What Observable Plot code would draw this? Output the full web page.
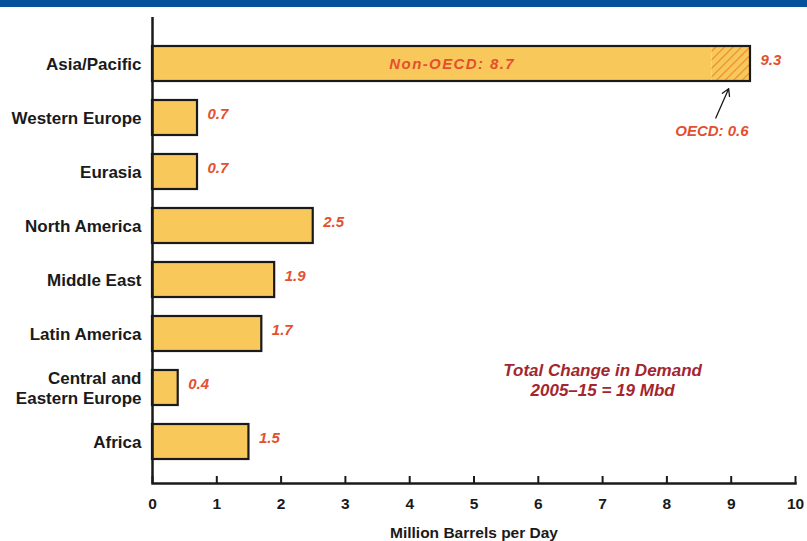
<!DOCTYPE html>
<html>
<head>
<meta charset="utf-8">
<script src="https://cdn.jsdelivr.net/npm/d3@7"></script>
<script src="https://cdn.jsdelivr.net/npm/@observablehq/plot@0.6"></script>
<style>
  body { margin: 0; background: #fff; font-family: "Liberation Sans", Arial, sans-serif; }
  #band { height: 7px; background: #07509a; }
  #chart svg { display: block; }
</style>
</head>
<body>
<div id="band"></div>
<div id="chart"></div>
<script>
// Regional change in oil demand, 2005–15 (million barrels per day)
const regions = ["Asia/Pacific", "Western Europe", "Eurasia", "North America",
  "Middle East", "Latin America", "Central and Eastern Europe", "Africa"];
const regionLabels = ["Asia/Pacific", "Western Europe", "Eurasia", "North America",
  "Middle East", "Latin America", "Central and\nEastern Europe", "Africa"];
const demandChange = [9.3, 0.7, 0.7, 2.5, 1.9, 1.7, 0.4, 1.5];
const asiaNonOECD = 8.7;
const asiaOECD = 0.6;
const xTicks = [0, 1, 2, 3, 4, 5, 6, 7, 8, 9, 10];
const axisTitle = "Million Barrels per Day";
const totalNote = "Total Change in Demand\n2005–15 = 19 Mbd";

const rows = regions.map((r, i) => ({region: r, label: regionLabels[i], value: demandChange[i]}));
const asia = rows[0];
const others = rows.slice(1);
const asiaParts = [
  {region: asia.region, x1: 0, x2: asiaNonOECD, part: "Non-OECD"},
  {region: asia.region, x1: asiaNonOECD, x2: asiaNonOECD + asiaOECD, part: "OECD"}
];

const W = 807, H = 534;
const marginTop = 10, marginBottom = 58, marginLeft = 152, marginRight = 12;
const frameH = H - marginTop - marginBottom;

const barFill = "#f9c85a";
const valueRed = "#e4502f";
const noteRed = "#a3262f";
const ink = "#1a1a1a";
const font = "Liberation Sans, Arial, sans-serif";

const svg = Plot.plot({
  width: W,
  height: H,
  marginTop, marginBottom, marginLeft, marginRight,
  style: {fontFamily: font, background: "#fff"},
  x: {domain: [0, 10]},
  y: {domain: regions, range: [28, 463], paddingInner: 0.35, paddingOuter: 0.175, axis: null},
  marks: [
    // bars
    Plot.barX(others, {y: "region", x: "value", fill: barFill, stroke: ink, strokeWidth: 2.2}),
    Plot.barX(asiaParts, {y: "region", x1: "x1", x2: "x2",
      fill: d => d.part === "OECD" ? "url(#oecd-hatch)" : barFill}),
    Plot.barX([asia], {y: "region", x: "value", fill: "none", stroke: ink, strokeWidth: 2.2}),

    // axes
    Plot.ruleX([0], {stroke: ink, strokeWidth: 2.5}),
    Plot.frame({anchor: "bottom", stroke: ink, strokeWidth: 2.5}),
    Plot.ruleX(xTicks, {insetTop: frameH - 7, stroke: ink, strokeWidth: 2}),
    Plot.axisX({ticks: xTicks, tickSize: 0, tickPadding: 14, fontSize: 15.5, fontWeight: "bold",
      fill: ink, label: null}),
    Plot.text([axisTitle], {x: 5, frameAnchor: "bottom", dy: 54, fontSize: 15.5,
      fontWeight: "bold", fill: ink}),

    // region labels
    Plot.text(rows, {x: 0, y: "region", text: "label", textAnchor: "end", dx: -11,
      lineHeight: 1.18, fontSize: 17, fontWeight: "bold", fill: ink}),

    // value labels
    Plot.text(rows, {x: "value", y: "region", text: d => d.value.toFixed(1), textAnchor: "start",
      dx: 10, dy: -4, fontSize: 15, fontWeight: "bold", fontStyle: "italic", fill: valueRed}),

    // Asia/Pacific breakdown
    Plot.text([asia], {x: asiaNonOECD / 2, y: "region", text: () => `Non-OECD: ${asiaNonOECD}`,
      dx: 20, fontSize: 15, fontWeight: "bold", fontStyle: "italic", fill: valueRed}),
    Plot.text([asia], {x: asiaNonOECD, y: () => regions[1], text: () => `OECD: ${asiaOECD}`,
      dy: 13, fontSize: 15, fontWeight: "bold", fontStyle: "italic", fill: valueRed}),
    Plot.arrow([asia], {x1: 8.76, y1: () => regions[1], x2: 9.13, y2: "region",
      insetStart: 0, insetEnd: 27, headLength: 9, stroke: ink, strokeWidth: 1.3}),

    // total note
    Plot.text([totalNote], {x: 7, y: () => regions[6], dy: -8, lineHeight: 1.18,
      fontSize: 17, fontWeight: "bold", fontStyle: "italic", fill: noteRed})
  ]
});

// diagonal hatching for the OECD share of the Asia/Pacific bar
const defs = d3.select(svg).insert("defs", ":first-child");
const pat = defs.append("pattern")
  .attr("id", "oecd-hatch")
  .attr("patternUnits", "userSpaceOnUse")
  .attr("width", 6).attr("height", 6)
  .attr("patternTransform", "rotate(45)");
pat.append("rect").attr("width", 6).attr("height", 6).attr("fill", barFill);
pat.append("line").attr("x1", 0).attr("y1", 0).attr("x2", 0).attr("y2", 6)
  .attr("stroke", "#e98a2c").attr("stroke-width", 2.2);

// wider tracking on the in-bar label
d3.select(svg).selectAll("text").filter(function() {
  return this.textContent.startsWith("Non-OECD");
}).attr("letter-spacing", "1.4px");

document.getElementById("chart").appendChild(svg);
</script>
</body>
</html>
